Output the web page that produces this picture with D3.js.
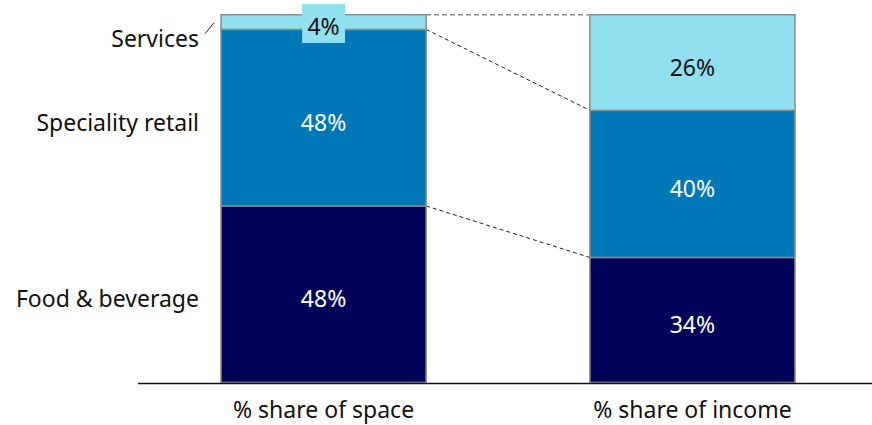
<!DOCTYPE html>
<html>
<head>
<meta charset="utf-8">
<script src="https://cdn.jsdelivr.net/npm/d3@7"></script>
<style>
  html, body { margin: 0; padding: 0; background: #fff; }
  svg { display: block; font-family: "Source Sans Pro", "Noto Sans", "Open Sans", sans-serif; }
</style>
</head>
<body>
<svg id="chart" width="872" height="425"></svg>
<script>
// Share of floor space vs share of income by tenant category
const columns = ["% share of space", "% share of income"];
const categories = ["Food & beverage", "Speciality retail", "Services"];
const spaceShare = [48, 48, 4];
const incomeShare = [34, 40, 26];
const colors = ["#02045a", "#0077b6", "#92dfef"];

const svg = d3.select("#chart");
const W = 872, H = 425;
const margin = { top: 14.7, bottom: 42.5, left: 221, right: 77 };
const baseY = H - margin.bottom;
const FS = 23;

const x = d3.scaleBand()
  .domain(columns)
  .range([margin.left, W - margin.right])
  .paddingInner(0.444)
  .paddingOuter(0);

const y = d3.scaleLinear()
  .domain([0, 100])
  .range([baseY, margin.top]);

const seriesByColumn = [spaceShare, incomeShare];

// stack the segments of each column
const stacks = seriesByColumn.map((vals, ci) => {
  let acc = 0;
  return vals.map((v, si) => {
    const seg = { col: columns[ci], cat: categories[si], value: v, y0: acc, y1: acc + v, si };
    acc += v;
    return seg;
  });
});

// connector lines between matching segment tops
const g = svg.append("g");
const xL = x(columns[0]) + x.bandwidth();
const xR = x(columns[1]);
for (let si = 0; si < categories.length; si++) {
  const a = stacks[0][si], b = stacks[1][si];
  const top = si === categories.length - 1;
  g.append("line")
    .attr("x1", xL).attr("y1", y(a.y1))
    .attr("x2", xR).attr("y2", y(b.y1))
    .attr("stroke", top ? "#8c8c8c" : "#222")
    .attr("stroke-width", top ? 1.6 : 1)
    .attr("stroke-dasharray", top ? "5,3" : "4,3");
}

// segments
stacks.forEach(stack => {
  g.selectAll(null).data(stack).enter().append("rect")
    .attr("x", d => x(d.col))
    .attr("width", x.bandwidth())
    .attr("y", d => y(d.y1))
    .attr("height", d => y(d.y0) - y(d.y1))
    .attr("fill", d => colors[d.si])
    .attr("stroke", "#8c8c8c")
    .attr("stroke-width", 1.5);
});

// value labels
stacks.forEach(stack => {
  stack.forEach(d => {
    const cx = x(d.col) + x.bandwidth() / 2;
    const h = y(d.y0) - y(d.y1);
    const cy = (y(d.y0) + y(d.y1)) / 2;
    const dark = d.si === 2;
    if (h < 30) {
      // small segment: label sits on a box in the segment colour
      g.append("rect")
        .attr("x", cx - 21.5).attr("y", y(d.y1) - 10.7)
        .attr("width", 43).attr("height", 39)
        .attr("fill", colors[d.si]);
    }
    g.append("text")
      .attr("x", cx).attr("y", h < 30 ? y(d.y1) + 11 : cy + 4)
      .attr("text-anchor", "middle")
      .attr("dominant-baseline", "central")
      .attr("font-size", FS)
      .attr("fill", dark ? "#111" : "#fff")
      .text(d.value + "%");
  });
});

// category labels on the left
const labelX = 199;
stacks[0].forEach(d => {
  const h = y(d.y0) - y(d.y1);
  const cy = h < 30 ? y(d.y1) + 23 : (y(d.y0) + y(d.y1)) / 2 + 4;
  g.append("text")
    .attr("x", labelX).attr("y", cy)
    .attr("text-anchor", "end")
    .attr("dominant-baseline", "central")
    .attr("font-size", FS)
    .attr("fill", "#111")
    .text(d.cat);
  if (h < 30) {
    g.append("line")
      .attr("x1", 205).attr("y1", cy - 4)
      .attr("x2", 214).attr("y2", cy - 15)
      .attr("stroke", "#222").attr("stroke-width", 1);
  }
});

// baseline axis
const axis = d3.axisBottom(x).tickSize(0).tickPadding(18);
const ax = svg.append("g").attr("transform", `translate(0,${baseY + 1})`).call(axis);
ax.select(".domain").remove();
ax.selectAll("text").attr("font-size", FS).attr("fill", "#111")
  .attr("font-family", "\"Source Sans Pro\", \"Noto Sans\", sans-serif");
svg.append("line")
  .attr("x1", 138).attr("x2", W)
  .attr("y1", baseY + 1).attr("y2", baseY + 1)
  .attr("stroke", "#111").attr("stroke-width", 1.5);
</script>
</body>
</html>
